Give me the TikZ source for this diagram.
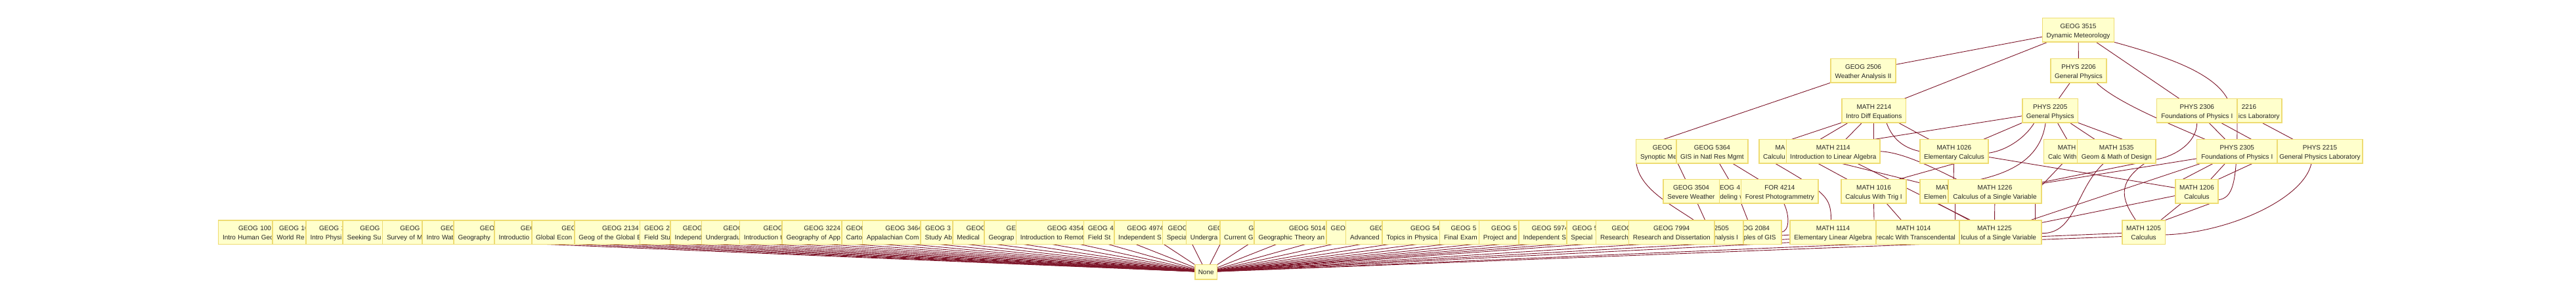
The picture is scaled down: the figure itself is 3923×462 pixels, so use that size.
\documentclass[tikz,border=0pt]{standalone}
\usepackage{fontspec}
\setmainfont{Liberation Sans}
\usetikzlibrary{backgrounds}
\definecolor{boxfill}{RGB}{255,255,204}
\definecolor{boxline}{RGB}{238,220,115}
\definecolor{linkcol}{RGB}{125,22,42}
\newcommand{\hd}[2][GEOG 0000]{\rlap{#2}\phantom{#1}}
\newcommand{\tl}[1]{\makebox[\linewidth][l]{#1}}
\newcommand{\lab}[2]{\rule{0pt}{12.3pt}#1\\#2\rule[-2.5pt]{0pt}{2.5pt}}

\begin{document}
\begin{tikzpicture}[
  x=1pt, y=-1pt,
  font=\fontsize{10}{14}\selectfont,
  course/.style={draw=boxline,fill=boxfill,line width=1.6pt,align=center,minimum height=36.6pt,
    inner xsep=3pt,inner ysep=1pt,outer sep=0pt,text=black!85},
  cut/.style={course,anchor=west,text width=#1,inner xsep=6.5pt},
  link/.style={draw=linkcol,line width=0.9pt}]
\useasboundingbox (0,0) rectangle (3923,462);

% top rows
\node[course,minimum width=109.1] (g3515) at (3165,45.8) {\lab{GEOG 3515}{Dynamic Meteorology}};
\node[course,minimum width=99.3] (g2506) at (2837.5,107.8) {\lab{GEOG 2506}{Weather Analysis II}};
\node[course,minimum width=85] (p2206) at (3165.5,107.8) {\lab{PHYS 2206}{General Physics}};
\node[course,minimum width=97.6] (m2214) at (2853.8,168.7) {\lab{MATH 2214}{Intro Diff Equations}};
\node[course,minimum width=84.4] (p2205) at (3122.2,168.7) {\lab{PHYS 2205}{General Physics}};
\node[course,minimum width=130,inner xsep=0pt] (p2216) at (3410,168.7) {\lab{\phantom{PHYS }2216}{\phantom{General Phys}ics Laboratory}};
\node[course,minimum width=122.4] (p2306) at (3345.8,168.7) {\lab{PHYS 2306}{Foundations of Physics I}};

% third row
\node[cut=93.2] (gsyn) at (2491.5,230.8) {\lab{\hd{GEOG}}{\tl{Synoptic Me}}};
\node[course,minimum width=109.3] (g5364) at (2607.4,230.8) {\lab{GEOG 5364}{GIS in Natl Res Mgmt}};
\node[cut=90] (mcal) at (2678.7,230.8) {\lab{\hd[MATH 0000]{MA}}{\tl{Calculu}}};
\node[course,minimum width=142.5] (m2114) at (2791.8,230.8) {\lab{MATH 2114}{Introduction to Linear Algebra}};
\node[course,minimum width=104.4] (m1026) at (2975.9,230.8) {\lab{MATH 1026}{Elementary Calculus}};
\node[cut=82.4] (mcw) at (3112.6,230.8) {\lab{\hd[MATH 0000]{MATH}}{\tl{Calc With}}};
\node[course,minimum width=119.6] (m1535) at (3223.2,230.8) {\lab{MATH 1535}{Geom \& Math of Design}};
\node[course,minimum width=122.4] (p2305) at (3406.8,230.8) {\lab{PHYS 2305}{Foundations of Physics I}};
\node[course,minimum width=130] (p2215) at (3533,230.8) {\lab{PHYS 2215}{General Physics Laboratory}};

% fourth row
\node[cut=67] (g4mod) at (2599,291.8) {\lab{\hd{GEOG 4}}{\tl{\phantom{Mo}deling w}}};
\node[course,minimum width=85.6] (g3504) at (2575.5,291.8) {\lab{GEOG 3504}{Severe Weather}};
\node[course,minimum width=117.3] (for4214) at (2710.3,291.8) {\lab{FOR 4214}{Forest Photogrammetry}};
\node[course,minimum width=99.1] (m1016) at (2853.5,291.8) {\lab{MATH 1016}{Calculus With Trig I}};
\node[cut=89] (m1025) at (2923.7,291.8) {\lab{\hd[MATH 0000]{MAT}}{\tl{Elemen}}};
\node[course,minimum width=142] (m1226) at (3038,291.8) {\lab{MATH 1226}{Calculus of a Single Variable}};
\node[course,minimum width=65] (m1206) at (3345.5,291.8) {\lab{MATH 1206}{Calculus}};

% bottom row
\node[cut=103.6] (g1004) at (332.5,354) {\lab{\hd{GEOG 100}}{\tl{Intro Human Geo}}};
\node[cut=62.6] (gworld) at (415.1,354) {\lab{\hd{GEOG 10}}{\tl{World Re}}};
\node[cut=83] (gphys) at (466,354) {\lab{\hd{GEOG 1}}{\tl{Intro Physi}}};
\node[cut=94.8] (gseek) at (522.2,354) {\lab{\hd{GEOG}}{\tl{Seeking Su}}};
\node[cut=96.4] (gsurvey) at (582.5,354) {\lab{\hd{GEOG}}{\tl{Survey of M}}};
\node[cut=98.2] (gwater) at (643.2,354) {\lab{\hd{GEOG}}{\tl{Intro Wat}}};
\node[cut=122.4] (ggeo) at (691,354) {\lab{\hd{GEOG}}{\tl{Geography}}};
\node[cut=122.4] (gintro) at (753,354) {\lab{\hd{GEO}}{\tl{Introductio}}};
\node[cut=134] (gecon) at (809.7,354) {\lab{\hd{GEOG}}{\tl{Global Econ}}};
\node[cut=126.8] (g2134) at (874.9,354) {\lab{\hd{GEOG 2134}}{\tl{Geog of the Global E}}};
\node[cut=50.8] (gfield) at (974.5,354) {\lab{\hd{GEOG 29}}{\tl{Field Stu}}};
\node[cut=80.4] (gindep) at (1021,354) {\lab{\hd{GEOG}}{\tl{Independ}}};
\node[cut=109] (gugrad) at (1068.3,354) {\lab{\hd{GEOG}}{\tl{Undergradu}}};
\node[cut=115.2] (gintrot) at (1126.3,354) {\lab{\hd{GEOG}}{\tl{Introduction t}}};
\node[cut=109] (g3224) at (1191.1,354) {\lab{\hd{GEOG 3224}}{\tl{Geography of App}}};
\node[cut=50.2] (gcarto) at (1282.1,354) {\lab{\hd{GEOG}}{\tl{Carto}}};
\node[cut=112.6] (g3464) at (1313.4,354) {\lab{\hd{GEOG 3464}}{\tl{Appalachian Com}}};
\node[cut=56.4] (gabroad) at (1402.2,354) {\lab{\hd{GEOG 3}}{\tl{Study Ab}}};
\node[cut=84] (gmed) at (1450.9,354) {\lab{\hd{GEOG}}{\tl{Medical}}};
\node[cut=109.8] (ggeog) at (1499.1,354) {\lab{\hd{GEO}}{\tl{Geograp}}};
\node[cut=137.6] (g4354) at (1547.3,354) {\lab{\hd{GEOG 4354}}{\tl{Introduction to Remot}}};
\node[cut=52] (gfield4) at (1650.4,354) {\lab{\hd{GEOG 4}}{\tl{Field St}}};
\node[cut=82] (g4974) at (1696.7,354) {\lab{\hd{GEOG 4974}}{\tl{Independent S}}};
\node[cut=59.4] (gspec) at (1770.3,354) {\lab{\hd{GEOG}}{\tl{Specia}}};
\node[cut=109.4] (gugrad5) at (1806.3,354) {\lab{\hd{GEO}}{\tl{Undergra}}};
\node[cut=130.6] (gcurr) at (1857.7,354) {\lab{\hd{GE}}{\tl{Current G}}};
\node[cut=148.6] (g5014) at (1910,354) {\lab{\hd{GEOG 5014}}{\tl{Geographic Theory an}}};
\node[cut=55] (gblank) at (2020.2,354) {\lab{\hd{GEOG}}{}};
\node[cut=115.4] (gadv) at (2049.6,354) {\lab{\hd{GEO}}{\tl{Advanced}}};
\node[cut=128.6] (gtopics) at (2105,354) {\lab{\hd{GEOG 54}}{\tl{Topics in Physica}}};
\node[cut=76.8] (gexam) at (2192.5,354) {\lab{\hd{GEOG 5}}{\tl{Final Exam}}};
\node[cut=80.4] (gproj) at (2252.3,354) {\lab{\hd{GEOG 5}}{\tl{Project and}}};
\node[cut=82.2] (g5974) at (2313,354) {\lab{\hd{GEOG 5974}}{\tl{Independent S}}};
\node[cut=59.8] (gspec5) at (2385.9,354) {\lab{\hd{GEOG 5}}{\tl{Special}}};
\node[cut=91] (gres) at (2430.5,354) {\lab{\hd{GEOG}}{\tl{Research}}};
\node[course,minimum width=90.6] (g2084) at (2667.4,354) {\lab{\phantom{GE}OG 2084}{\phantom{Princ}iples of GIS}};
\node[course,minimum width=99.5] (g2505) at (2605.3,354) {\lab{\phantom{GEOG }2505}{\phantom{Weather A}nalysis I}};
\node[course,minimum width=130.4] (g7994) at (2545.7,354) {\lab{GEOG 7994}{Research and Dissertation}};
\node[course,minimum width=143.8] (m1225) at (3037.3,354) {\lab{MATH 1225}{\phantom{Ca}lculus of a Single Variable}};
\node[course,minimum width=139.8] (m1014) at (2914.2,354) {\lab{MATH 1014}{\phantom{P}recalc With Transcendental}};
\node[course,minimum width=130.8] (m1114) at (2791.5,354) {\lab{MATH 1114}{Elementary Linear Algebra}};
\node[course,minimum width=65.6] (m1205) at (3264.5,354) {\lab{MATH 1205}{Calculus}};

\node[course,minimum width=33.3,minimum height=22.7] (none) at (1836.7,414.7) {None};

\begin{scope}[on background layer]
\fill[white] (0,0) rectangle (3923,462);
% from the top course
\draw[link] (g3515) -- (g2506);
\draw[link] (g3515) -- (m2214);
\draw[link] (g3515) -- (p2206);
\draw[link] (g3515) -- (p2306);
\draw[link] ([xshift=54]g3515.south) .. controls +(80,22) and +(-22,-40) .. ([xshift=-18]p2216.north);
\draw[link] ([xshift=-49.7]g2506.south) -- ([xshift=-11.3]gsyn.north);
\draw[link] (p2206) -- (p2205);
\draw[link] ([xshift=27]p2206.south) .. controls +(30,30) and +(-50,-22) .. ([xshift=-48.5]p2305.north);
% second level
\draw[link] ([xshift=-49]m2214.south) -- ([xshift=-2]mcal.north);
\draw[link] ([xshift=-39]m2214.south) -- ([xshift=-20]m2114.north);
\draw[link] ([xshift=-18]m2214.south) -- ([xshift=19]m2114.north);
\draw[link] (m2214.south) -- ([xshift=62]m2114.north);
\draw[link] ([xshift=19]m2214.south) .. controls +(8,22) and +(-28,-6) .. (m1026.west);
\draw[link] ([xshift=37]m2214.south) -- ([xshift=-38]m1026.north);
\draw[link] ([yshift=-8]p2205.west) -- ([xshift=62]m2114.north);
\draw[link] ([xshift=-42]p2205.south) -- ([xshift=44.6]m1026.north);
\draw[link] ([xshift=-24]p2205.south) .. controls +(-15,25) and +(25,-3) .. ([yshift=-2.5]m1026.east);
\draw[link] ([xshift=-7]p2205.south) .. controls +(-7,53) and +(49,-11.5) .. ([xshift=-22]m1226.north);
\draw[link] ([xshift=11]p2205.south) -- ([xshift=-12.5]mcw.north);
\draw[link] ([xshift=29.6]p2205.south) -- ([xshift=-33]m1535.north);
\draw[link] ([xshift=42]p2205.south) -- ([xshift=9.4]m1535.north);
\draw[link] (p2306.south) .. controls +(0,30) and +(30,-5) .. ([yshift=-12.5]m1535.east) -- ([yshift=13.7]m1226.east);
\draw[link] ([xshift=18]p2306.south) -- ([xshift=-18]p2305.north);
\draw[link] ([xshift=36]p2306.south) -- ([xshift=22]p2305.north);
\draw[link] ([xshift=-3]p2216.south) .. controls +(0,95) and +(22,-3) .. ([yshift=-13]m1206.east);
\draw[link] ([xshift=34.4]p2216.south) -- ([xshift=-40.7]p2215.north);
% third level
\draw[link] ([xshift=-36]p2305.south) -- ([xshift=-21.5]m1206.north);
\draw[link] ([xshift=-18]p2305.south) -- ([xshift=21]m1206.north);
\draw[link] ([xshift=24]p2305.south) -- (m1206.north east);
\draw[link] ([yshift=-11]p2305.west) -- ([yshift=12]m1226.east);
\draw[link] (p2305) -- (m1225);
\draw[link] ([xshift=-13]p2215.south) .. controls +(-12,55) and +(95,-3) .. ([yshift=-4]m1205.east) -- (none);
\draw[link] ([xshift=-19.6]m1535.south) .. controls +(-43.6,41) and +(52,1) .. ([yshift=-1.7]m1225.east);
\draw[link] ([xshift=43]m1535.south) .. controls +(-44,31) and +(-20.5,-30.7) .. ([xshift=-12]m1205.north);
\draw[link] ([xshift=-19]mcw.south) -- ([yshift=8.7]m1226.east);
\draw[link] (m1026) -- (m1206);
\draw[link] (m1026) -- (m1025);
\draw[link] ([xshift=2]m1026.south) -- ([xshift=37.5]m1016.north);
\draw[link] ([xshift=-23.5]m2114.south) -- ([xshift=-40.2]m1016.north);
\draw[link] ([xshift=12]m2114.south) -- ([yshift=13]m1025.west);
\draw[link] (m2114) -- (m1225);
\draw[link] (m2114.east) .. controls +(32,1) and +(-40,-20) .. ([xshift=-58]m1226.north);
\draw[link] ([xshift=-27]mcal.south) .. controls +(77,45) and +(0,-35.7) .. ([xshift=-3]m1114.north);
\draw[link] ([xshift=10.4]gsyn.south) -- ([xshift=-8.8]g3504.north);
\draw[link] ([yshift=-12]gsyn.west) .. controls +(0.5,43) and +(-35,-24) .. ([xshift=34]g7994.north);
\draw[link] ([xshift=11]g5364.south) -- ([xshift=-6.3]g4mod.north);
\draw[link] ([xshift=31]g5364.south) -- ([xshift=-32]for4214.north);
% fourth level
\draw[link] ([xshift=6.4]for4214.south) .. controls +(9.3,20) and +(12.3,-1.3) .. (g2084.east);
\draw[link] ([xshift=12.7]g4mod.south) -- ([xshift=-5.7]g2084.north);
\draw[link] ([xshift=9.5]g3504.south) -- ([xshift=51]g7994.north);
\draw[link] (m1016.south) -- ([xshift=-60.2]m1014.north);
\draw[link] ([xshift=19.5]m1016.south) -- ([xshift=-18.7]m1014.north);
\draw[link] ([xshift=2.3]m1025.south) -- ([xshift=62.8]m1014.north);
\draw[link] ([xshift=-23.7]m1025.south) -- ([xshift=-38.3]m1225.north);
\draw[link] (m1226) -- (m1225);
\draw[link] ([xshift=61.6]m1226.south) -- ([xshift=62.3]m1225.north);
\draw[link] (m1206) -- (m1225);
\draw[link] ([xshift=-23.6]m1206.south) -- ([xshift=26]m1205.north);
\draw[link] ([xshift=21]m1206.south) -- (m1205.north east);
% everything in the bottom row ends at None
\foreach \n in {g1004,gworld,gphys,gseek,gsurvey,gwater,ggeo,gintro,gecon,g2134,gfield,gindep,
  gugrad,gintrot,g3224,gcarto,g3464,gabroad,gmed,ggeog,g4354,gfield4,g4974,gspec,gugrad5,gcurr,
  g5014,gblank,gadv,gtopics,gexam,gproj,g5974,gspec5,gres,g7994,g2505,g2084,m1114,m1014,m1225,m1205}
  \draw[link] (\n) -- (none);
\end{scope}
\end{tikzpicture}
\end{document}
